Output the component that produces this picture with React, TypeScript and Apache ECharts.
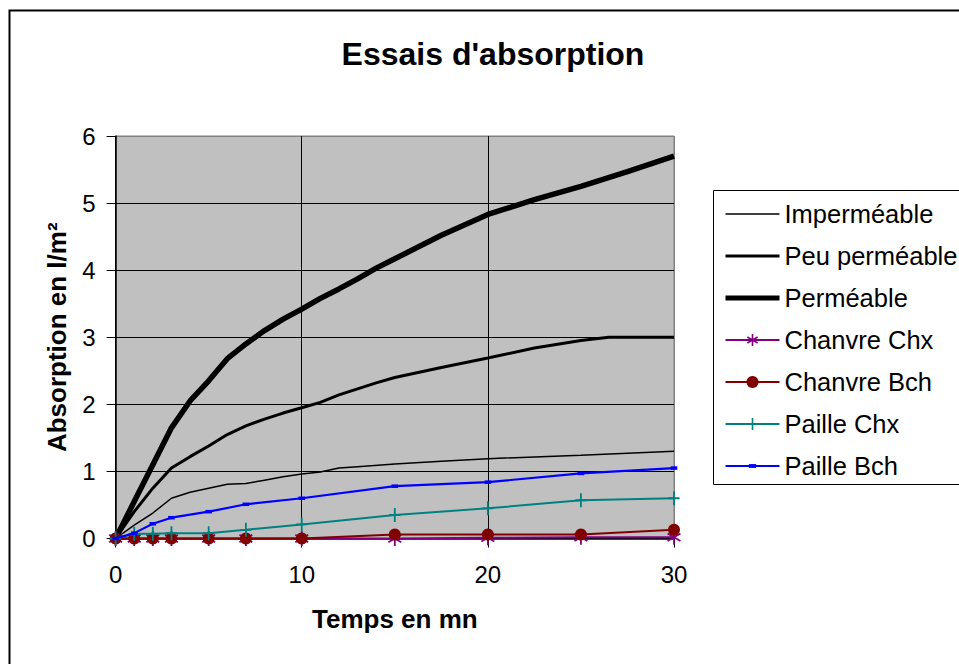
import React, { useEffect, useRef } from "react";
import * as echarts from "echarts";

const FONT = "'Liberation Sans', Arial, sans-serif";

const TITLE = "Essais d'absorption";
const X_NAME = "Temps en mn";
const Y_NAME = "Absorption en l/m²";

const SERIES_NAMES = [
  "Imperméable",
  "Peu perméable",
  "Perméable",
  "Chanvre Chx",
  "Chanvre Bch",
  "Paille Chx",
  "Paille Bch",
];

// [time (mn), absorption (l/m²)]
const impermeable: [number, number][] = [
  [0, 0], [1, 0.2], [2, 0.38], [3, 0.6], [4, 0.69], [5, 0.75], [6, 0.81],
  [7, 0.82], [8, 0.87], [9, 0.92], [10, 0.96], [11, 0.99], [12, 1.05],
  [13, 1.07], [15, 1.11], [17.5, 1.15], [20, 1.19], [25, 1.24], [30, 1.3],
];
const peuPermeable: [number, number][] = [
  [0, 0], [1, 0.4], [2, 0.75], [3, 1.05], [4, 1.22], [5, 1.38], [6, 1.55],
  [7, 1.68], [8, 1.78], [9, 1.87], [10, 1.95], [11, 2.03], [12, 2.14],
  [13, 2.23], [14, 2.32], [15, 2.4], [17.5, 2.55], [20, 2.69], [22.5, 2.84],
  [25, 2.95], [26.5, 3.0], [30, 3.0],
];
const permeable: [number, number][] = [
  [0, 0], [1, 0.55], [2, 1.1], [3, 1.65], [4, 2.05], [5, 2.35], [6, 2.68],
  [7, 2.9], [8, 3.1], [9, 3.27], [10, 3.42], [11, 3.58], [12, 3.72],
  [13, 3.87], [14, 4.03], [15, 4.17], [17.5, 4.52], [20, 4.83], [22.5, 5.05],
  [25, 5.25], [27.5, 5.47], [30, 5.7],
];

const markerTimes = [0, 1, 2, 3, 5, 7, 10, 15, 20, 25, 30];
const chanvreChx = [0, 0, 0, 0, 0, 0, 0, 0, 0.01, 0.02, 0.02];
const chanvreBch = [0, 0, 0, 0, 0, 0, 0, 0.06, 0.06, 0.06, 0.13];
const pailleChx = [0, 0.07, 0.07, 0.08, 0.08, 0.13, 0.21, 0.35, 0.45, 0.57, 0.6];
const pailleBch = [0, 0.08, 0.22, 0.31, 0.4, 0.51, 0.6, 0.78, 0.84, 0.97, 1.05];

const xTicks = { min: 0, max: 30, interval: 10 };
const yTicks = { min: 0, max: 6, interval: 1 };

const STAR = "path://M0,0M10,10M5,0L5,10M0.7,2.5L9.3,7.5M9.3,2.5L0.7,7.5";
const PLUS = "path://M0,0M10,10M5,0L5,10M1,5L9,5";
const SMALL_RECT = "path://M0,0M10,10M2,3.4L8,3.4L8,6.6L2,6.6Z";

const pair = (vals: number[]) => markerTimes.map((t, i) => [t, vals[i]]);

export default function App() {
  const ref = useRef<HTMLDivElement>(null);

  useEffect(() => {
    if (!ref.current) return;
    const chart = echarts.init(ref.current, null, { renderer: "svg" });

    const colors = ["#000000", "#000000", "#000000", "#800080", "#800000", "#008080", "#0000FF"];
    const widths = [1.5, 3, 5.5, 2, 2, 2, 2.2];

    const seriesData: any[] = [
      impermeable,
      peuPermeable,
      permeable,
      pair(chanvreChx),
      pair(chanvreBch),
      pair(pailleChx),
      pair(pailleBch),
    ];
    const symbols = ["none", "none", "none", STAR, "circle", PLUS, SMALL_RECT];
    const sizes = [0, 0, 0, 15, 12, 14, 11];
    const strokeSymbols = [false, false, false, true, false, true, false];

    const series = SERIES_NAMES.map((name, i) => ({
      name,
      type: "line",
      data: seriesData[i],
      symbol: symbols[i],
      symbolSize: sizes[i],
      showSymbol: symbols[i] !== "none",
      lineStyle: { color: colors[i], width: widths[i] },
      itemStyle: strokeSymbols[i]
        ? { color: colors[i], borderColor: colors[i], borderWidth: 1.8 }
        : { color: colors[i], borderWidth: 0 },
      emphasis: { disabled: true },
      z: 2 + i,
    }));

    const legendData = SERIES_NAMES.map((name, i) => ({
      name,
      lineStyle: { color: colors[i], width: Math.min(widths[i], 5) },
      itemStyle:
        symbols[i] === "none"
          ? { color: "rgba(0,0,0,0)", borderColor: "rgba(0,0,0,0)", borderWidth: 0, opacity: 0 }
          : strokeSymbols[i]
          ? { color: colors[i], borderColor: colors[i], borderWidth: 1.6 }
          : { color: colors[i], borderWidth: 0 },
    }));

    chart.setOption({
      animation: false,
      backgroundColor: "#ffffff",
      textStyle: { fontFamily: FONT },
      grid: {
        left: 115.6,
        right: 285,
        top: 136,
        bottom: 125.5,
        show: true,
        backgroundColor: "#C0C0C0",
        borderColor: "#808080",
        borderWidth: 1,
      },
      legend: {
        orient: "vertical",
        left: 718,
        top: 196,
        itemWidth: 54,
        itemHeight: 15,
        itemGap: 16,
        selectedMode: false,
        textStyle: { fontFamily: FONT, fontSize: 25.5, color: "#000", lineHeight: 24 },
        data: legendData,
      },
      xAxis: {
        type: "value",
        min: xTicks.min,
        max: xTicks.max,
        interval: xTicks.interval,
        name: X_NAME,
        nameLocation: "middle",
        nameGap: 67,
        nameTextStyle: { fontFamily: FONT, fontSize: 26, fontWeight: "bold", color: "#000", verticalAlign: "top" },
        axisLine: { show: true, onZero: false, lineStyle: { color: "#000", width: 1.5 } },
        axisTick: { show: true, length: 9, inside: false, lineStyle: { color: "#000" } },
        axisLabel: { fontFamily: FONT, fontSize: 24, color: "#000", margin: 24 },
        splitLine: {
          show: true,
          lineStyle: { color: ["#000", "#000", "#000", "#808080"], width: 1 },
        },
      },
      yAxis: {
        type: "value",
        min: yTicks.min,
        max: yTicks.max,
        interval: yTicks.interval,
        name: Y_NAME,
        nameLocation: "middle",
        nameGap: 46,
        nameTextStyle: { fontFamily: FONT, fontSize: 26, fontWeight: "bold", color: "#000" },
        axisLine: { show: true, lineStyle: { color: "#000", width: 1.5 } },
        axisTick: { show: true, length: 9, inside: false, lineStyle: { color: "#000" } },
        axisLabel: { fontFamily: FONT, fontSize: 24, color: "#000", margin: 20 },
        splitLine: {
          show: true,
          lineStyle: {
            color: ["#000", "#000", "#000", "#000", "#000", "#000", "#808080"],
            width: 1,
          },
        },
      },
      graphic: [
        {
          type: "rect",
          silent: true,
          shape: { x: 9.5, y: 10.5, width: 1000, height: 700 },
          style: { fill: "none", stroke: "#000", lineWidth: 2 },
          z: 0,
        },
        {
          type: "rect",
          silent: true,
          shape: { x: 713.5, y: 190.5, width: 300, height: 294 },
          style: { fill: "none", stroke: "#000", lineWidth: 1 },
          z: 0,
        },
        {
          type: "text",
          silent: true,
          x: 493,
          y: 54,
          style: {
            text: TITLE,
            fontFamily: FONT,
            fontSize: 32,
            fontWeight: "bold",
            fill: "#000",
            align: "center",
            verticalAlign: "middle",
          },
        },
      ],
      series,
    });

    return () => chart.dispose();
  }, []);

  return (
    <div
      ref={ref}
      style={{ position: "absolute", left: 0, top: 0, width: 959, height: 664 }}
    />
  );
}
